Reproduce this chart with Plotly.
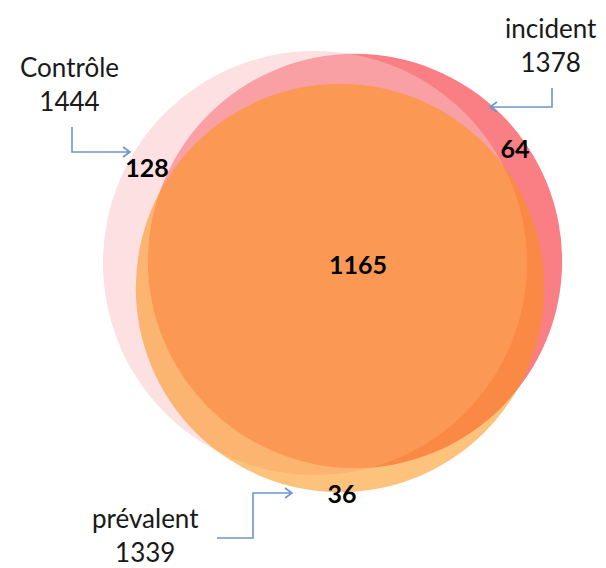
import math
import plotly.graph_objects as go

# ---- data ----
set_names = ["Contrôle", "incident", "prévalent"]
set_sizes = [1444, 1378, 1339]
region_values = [128, 64, 1165, 36]

# ---- layout (pixel-space positions) ----
W, H = 606, 568
scale = 5.58  # px per sqrt(count)
centers = {"Contrôle": (315, 263), "incident": (355, 261), "prévalent": (340, 288)}
fills = {
    "incident": "rgba(249,127,132,1)",
    "Contrôle": "rgba(249,193,197,0.5)",
    "prévalent": "rgba(251,146,19,0.55)",
}
draw_order = ["incident", "Contrôle", "prévalent"]
region_pos = [(147, 171), (515, 152), (358, 268), (342, 497)]
label_pos = {"Contrôle": (69, 84), "incident": (551, 45), "prévalent": (145, 535)}
arrow_paths = [
    "M72,127 L72,152 L130,152 M123,147 L130,152 L123,157",
    "M552,88 L552,107 L490,107 M497,102 L490,107 L497,112",
    "M217,538 L253,538 L253,493 L292,493 M285,488 L292,493 L285,498",
]

fig = go.Figure()

shapes = []
for name in draw_order:
    n = set_sizes[set_names.index(name)]
    r = scale * math.sqrt(n)
    cx, cy = centers[name]
    shapes.append(dict(type="circle", xref="x", yref="y",
                       x0=cx - r, x1=cx + r, y0=cy - r, y1=cy + r,
                       fillcolor=fills[name], line=dict(width=0), layer="below"))
for p in arrow_paths:
    shapes.append(dict(type="path", path=p, xref="x", yref="y",
                       line=dict(color="rgb(110,150,205)", width=1.6), layer="above"))

fig.add_trace(go.Scatter(
    x=[p[0] for p in region_pos], y=[p[1] for p in region_pos],
    mode="text", text=[f"<b>{v}</b>" for v in region_values],
    textfont=dict(family="Lato", size=25, color="black"),
    hoverinfo="skip", showlegend=False))

annotations = []
for name, n in zip(set_names, set_sizes):
    x, y = label_pos[name]
    annotations.append(dict(x=x, y=y, xref="x", yref="y", showarrow=False,
                            text=f"{name}<br>{n}", align="center",
                            font=dict(family="Lato", size=26, color="rgb(25,25,25)")))

fig.update_layout(
    width=W, height=H, margin=dict(l=0, r=0, t=0, b=0),
    paper_bgcolor="white", plot_bgcolor="white",
    shapes=shapes, annotations=annotations, showlegend=False,
    xaxis=dict(range=[0, W], visible=False, fixedrange=True),
    yaxis=dict(range=[H, 0], visible=False, fixedrange=True),
)
fig.write_html("out.html", config={"displayModeBar": False},
               post_script="document.body.style.margin='0px';document.body.style.overflow='hidden';")
